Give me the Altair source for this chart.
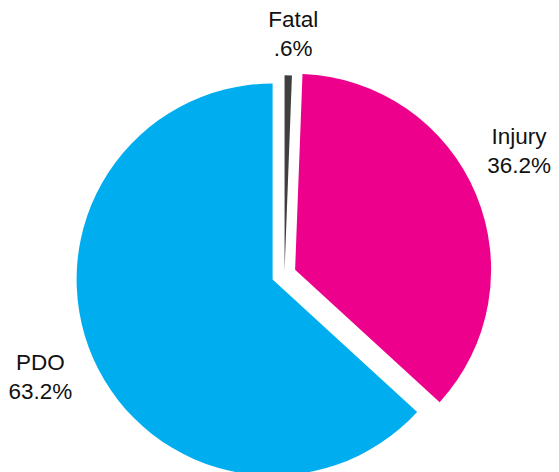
import altair as alt
import pandas as pd

# ---- data ----
categories = ["Fatal", "Injury", "PDO"]
shares = [0.6, 36.2, 63.2]
pct_labels = [".6%", "36.2%", "63.2%"]

# ---- style ----
colors = ["#3f3f3f", "#ec008c", "#00aeef"]
explode = {"Fatal": 3.0, "Injury": 11.5, "PDO": 13.0}      # px pulled out along mid-angle
label_turn = {"Fatal": 1.0, "Injury": -5.0, "PDO": 1.0}     # degrees nudge for labels

W, H = 543, 464
CX, CY = 276.5, 266.3
R = 196

df = pd.DataFrame({
    "cat": categories,
    "share": shares,
    "pct": pct_labels,
    "order": list(range(len(categories))),
})
df["explode"] = df["cat"].map(explode)
df["turn"] = df["cat"].map(label_turn)

base = alt.Chart(df).transform_joinaggregate(
    total="sum(share)"
).transform_window(
    cum="sum(share)", sort=[alt.SortField("order", order="ascending")], frame=[None, 0]
).transform_calculate(
    a1="datum.cum / datum.total * 2 * PI",
    a0="(datum.cum - datum.share) / datum.total * 2 * PI",
).transform_calculate(
    mid="(datum.a0 + datum.a1) / 2",
).transform_calculate(
    px=f"{CX} + datum.explode * sin(datum.mid)",
    py=f"{CY} - datum.explode * cos(datum.mid)",
    lmid="datum.mid + datum.turn * PI / 180",
    lr="240 + 27 * abs(sin(datum.mid))",
    label="datum.cat + '\\n' + datum.pct",
).transform_calculate(
    lx=f"{CX} + datum.lr * sin(datum.lmid)",
    ly=f"{CY} - datum.lr * cos(datum.lmid)",
)

arcs = base.mark_arc(radius=R).encode(
    theta=alt.Theta("a0:Q", scale=None),
    theta2="a1:Q",
    x=alt.X("px:Q", scale=None),
    y=alt.Y("py:Q", scale=None),
    color=alt.Color("cat:N", scale=alt.Scale(domain=categories, range=colors), legend=None),
)

labels = base.mark_text(
    font="Liberation Sans", fontSize=22.5, lineBreak="\n", lineHeight=29,
    align="center", baseline="middle", color="#111111", dy=-14,
).encode(
    x=alt.X("lx:Q", scale=None),
    y=alt.Y("ly:Q", scale=None),
    text="label:N",
)

chart = alt.layer(arcs, labels).properties(
    width=W, height=H, padding=0, autosize="none"
).configure_view(stroke=None)

chart.save("out.html", embed_options={"renderer": "svg", "actions": False})
